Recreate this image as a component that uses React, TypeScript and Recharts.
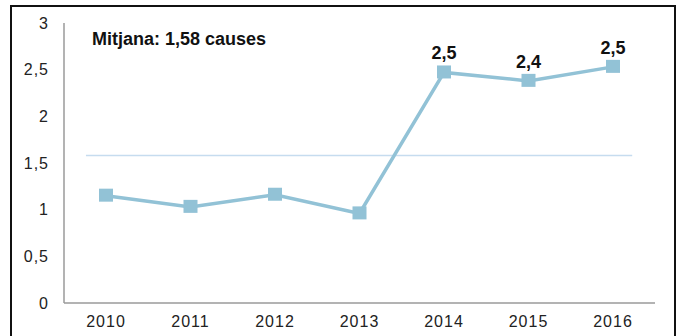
import React from "react";
import {
  LineChart,
  Line,
  XAxis,
  YAxis,
  ReferenceLine,
  LabelList,
} from "recharts";

const years = ["2010", "2011", "2012", "2013", "2014", "2015", "2016"];
const causes = [1.15, 1.03, 1.16, 0.96, 2.47, 2.38, 2.53];
const pointLabels = ["", "", "", "", "2,5", "2,4", "2,5"];
const yTicks = [0, 0.5, 1, 1.5, 2, 2.5, 3];
const meanValue = 1.58;
const meanSpan = [0.26, 6.73];

const data = years.map((year, i) => ({
  year,
  pos: i + 0.5,
  value: causes[i],
  label: pointLabels[i],
}));

const LINE_COLOR = "#92c2d6";
const AXIS_COLOR = "#9a9a9a";
const FONT = "'Liberation Sans', Arial, sans-serif";

const fmt = (v: number) => String(v).replace(".", ",");

const SquareDot = (props: any) => {
  const { cx, cy, index } = props;
  if (cx == null || cy == null) return null;
  return (
    <rect
      key={`dot-${index}`}
      x={cx - 7}
      y={cy - 7}
      width={14}
      height={13}
      fill={LINE_COLOR}
    />
  );
};

const App: React.FC = () => {
  return (
    <div
      style={{
        position: "absolute",
        left: 10,
        top: 5,
        width: 662,
        height: 340,
        border: "2px solid #111",
        background: "#fff",
        fontFamily: FONT,
      }}
    >
      <div
        style={{
          position: "absolute",
          left: 80,
          top: 22,
          fontSize: 18,
          fontWeight: "bold",
          color: "#111",
          whiteSpace: "nowrap",
        }}
      >
        Mitjana: 1,58 causes
      </div>
      <LineChart
        width={662}
        height={340}
        data={data}
        margin={{ top: 16, right: 19, bottom: 0, left: 0 }}
      >
        <XAxis
          dataKey="year"
          padding={{ left: 42, right: 42 }}
          axisLine={{ stroke: AXIS_COLOR, strokeWidth: 1.5 }}
          tickLine={false}
          tickSize={6}
          tickMargin={7}
          height={44}
          tick={{ fill: "#222", fontSize: 16, letterSpacing: 1, fontFamily: FONT }}
        />
        <XAxis
          xAxisId="span"
          dataKey="pos"
          type="number"
          domain={[0, 7]}
          allowDataOverflow
          hide
        />
        <YAxis
          domain={[0, 3]}
          ticks={yTicks}
          tickFormatter={fmt}
          width={52}
          axisLine={{ stroke: AXIS_COLOR, strokeWidth: 1.5 }}
          tickLine={false}
          tickSize={6}
          tickMargin={9}
          tick={{ fill: "#222", fontSize: 16, letterSpacing: 1, fontFamily: FONT }}
        />
        <ReferenceLine
          xAxisId="span"
          segment={[
            { x: meanSpan[0], y: meanValue },
            { x: meanSpan[1], y: meanValue },
          ]}
          stroke="#c6dcef"
          strokeWidth={1.5}
          ifOverflow="visible"
        />
        <Line
          type="linear"
          dataKey="value"
          stroke={LINE_COLOR}
          strokeWidth={3.5}
          dot={<SquareDot />}
          activeDot={false}
          isAnimationActive={false}
        >
          <LabelList
            dataKey="label"
            position="top"
            offset={13}
            style={{ fontSize: 18, fontWeight: "bold", fill: "#111", fontFamily: FONT }}
          />
        </Line>
      </LineChart>
    </div>
  );
};

export default App;
